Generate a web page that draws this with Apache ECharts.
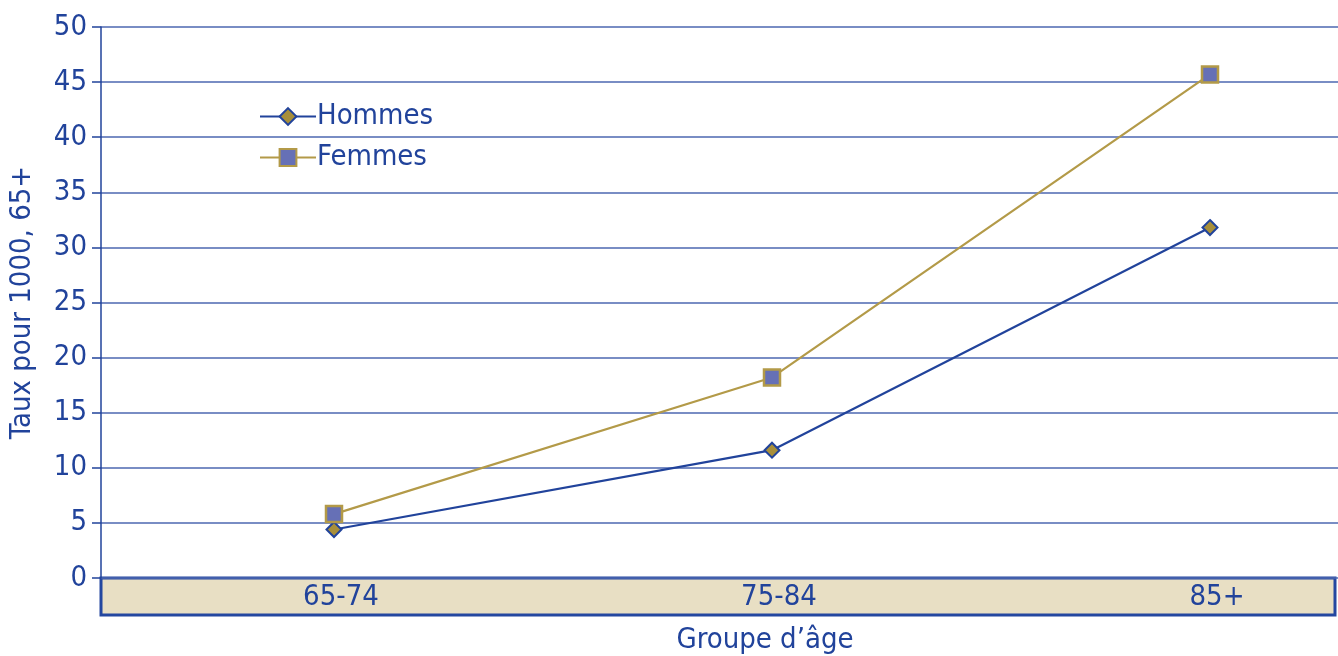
<!DOCTYPE html>
<html>
<head>
<meta charset="utf-8">
<script src="https://cdn.jsdelivr.net/npm/echarts@6/dist/echarts.min.js"></script>
<style>
  html, body { margin: 0; padding: 0; background: #fff; }
  #chart { width: 1338px; height: 656px; }
</style>
</head>
<body>
<div id="chart"></div>
<script>
  const categories = ['65-74', '75-84', '85+']
  const hommes = [4.4, 11.6, 31.8]
  const femmes = [5.8, 18.2, 45.7]
  const yTicks = { min: 0, max: 50, interval: 5 }

  const font = '"DejaVu Sans Condensed", "Liberation Sans Narrow", sans-serif'
  const blue = '#21439b'
  const gold = '#b39a48'

  let chart = echarts.init(document.getElementById('chart'))

  chart.setOption({
    animation: false,
    textStyle: { fontFamily: font, color: blue },
    legend: {
      orient: 'vertical',
      left: 254,
      top: 97,
      itemWidth: 56,
      itemHeight: 21,
      itemGap: 12,
      textStyle: { fontFamily: font, fontSize: 29, color: blue, padding: [0, 0, 0, -4] },
      data: ['Hommes', 'Femmes']
    },
    grid: [
      // plot area with y axis + gridlines
      { left: 101, right: 0, top: 27, bottom: 78, outerBoundsMode: 'none' },
      // points area
      { left: 334, right: 128, top: 27, bottom: 78, outerBoundsMode: 'none' },
      // tan band under the axis
      { left: 101, right: 3, top: 578, bottom: 41, outerBoundsMode: 'none', show: true, backgroundColor: '#e8dfc4', borderColor: '#2447a0', borderWidth: 3, z: 0 }
    ],
    xAxis: [
      { gridIndex: 0, type: 'value', show: false, min: 0, max: 1 },
      {
        gridIndex: 1,
        type: 'category',
        boundaryGap: false,
        data: categories,
        axisLine: { show: false },
        axisTick: { show: false },
        axisLabel: { fontSize: 29, color: blue, margin: 5, padding: [0, 0, 0, 14] },
        name: 'Groupe d\u2019âge',
        nameLocation: 'middle',
        nameGap: 48,
        nameTextStyle: { fontSize: 29, color: blue, padding: [0, 0, 0, -14] }
      },
      { gridIndex: 2, type: 'value', show: false, min: 0, max: 1 }
    ],
    yAxis: [
      {
        gridIndex: 0,
        type: 'value',
        min: yTicks.min,
        max: yTicks.max,
        interval: yTicks.interval,
        axisLine: { show: true, lineStyle: { color: blue, width: 1.5 } },
        axisTick: { show: true, length: 9, lineStyle: { color: blue, width: 1.5 } },
        axisLabel: { fontSize: 29, color: blue, margin: 14 },
        splitLine: { lineStyle: { color: '#4d67b1', width: 1.5 } },
        name: 'Taux pour 1000, 65+',
        nameLocation: 'middle',
        nameGap: 64,
        nameTextStyle: { fontSize: 29, color: blue }
      },
      { gridIndex: 1, type: 'value', show: false, min: yTicks.min, max: yTicks.max },
      { gridIndex: 2, type: 'value', show: false, min: 0, max: 1 }
    ],
    series: [
      {
        name: 'Hommes',
        type: 'line',
        xAxisIndex: 1,
        yAxisIndex: 1,
        data: hommes,
        symbol: 'diamond',
        symbolSize: 15,
        lineStyle: { color: blue, width: 2.2 },
        itemStyle: { color: '#a88f3a', borderColor: blue, borderWidth: 2 },
        z: 3
      },
      {
        name: 'Femmes',
        type: 'line',
        xAxisIndex: 1,
        yAxisIndex: 1,
        data: femmes,
        symbol: 'rect',
        symbolSize: 16,
        lineStyle: { color: gold, width: 2.2 },
        itemStyle: { color: '#6670b6', borderColor: gold, borderWidth: 2.5 },
        z: 3
      }
    ]
  })
</script>
</body>
</html>
